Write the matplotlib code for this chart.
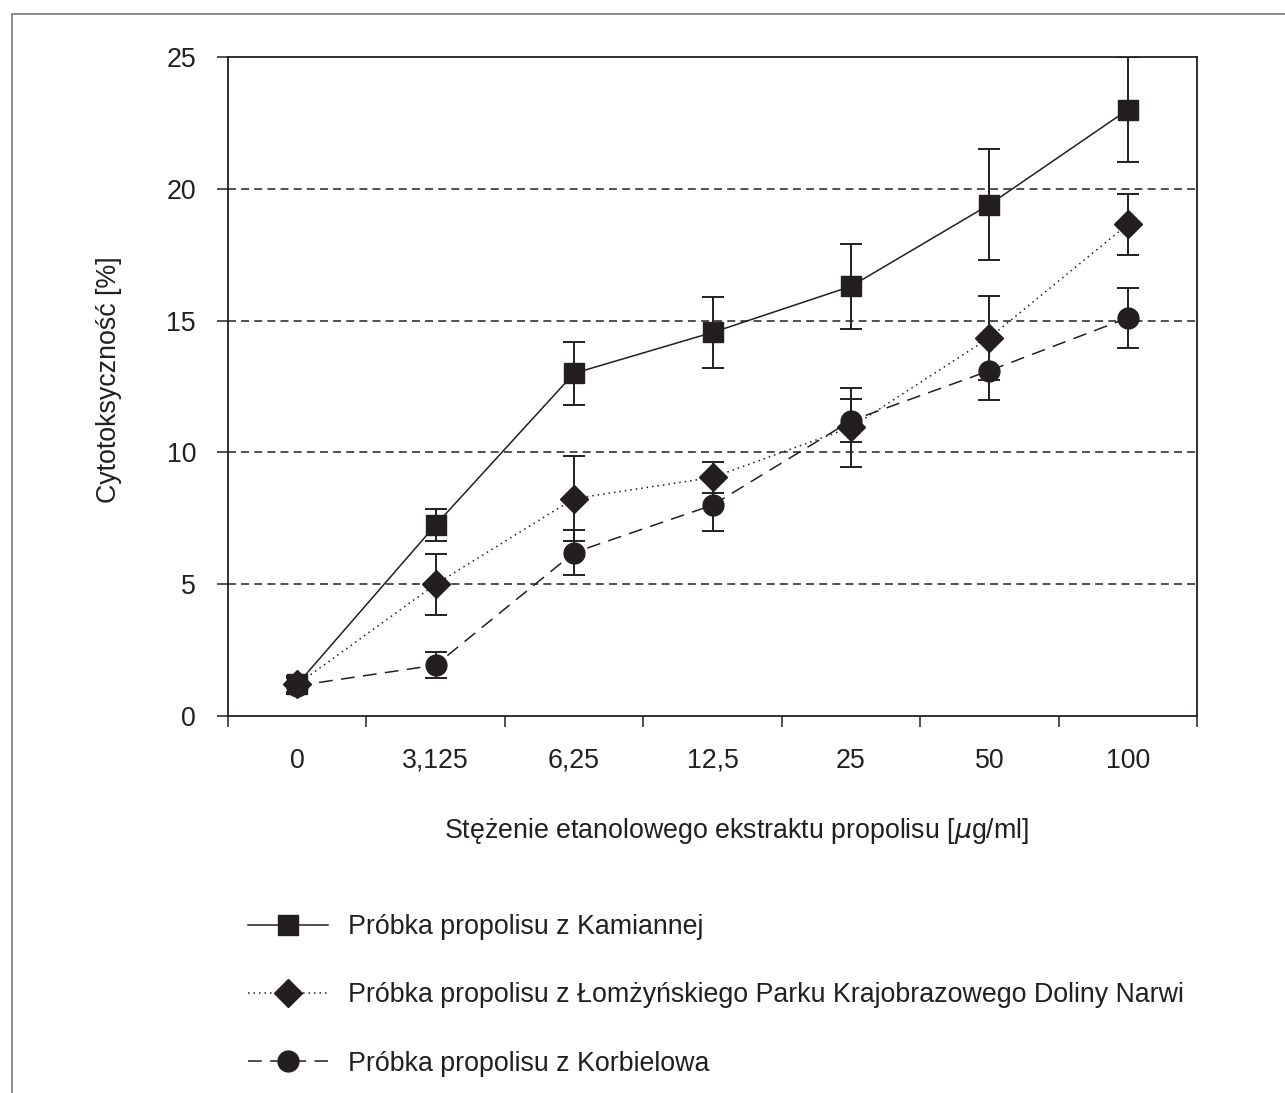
import matplotlib.pyplot as plt
from matplotlib.patches import Rectangle

plt.rcParams['font.family'] = ['Liberation Sans', 'DejaVu Sans']

# Data
concentrations = ['0', '3,125', '6,25', '12,5', '25', '50', '100']
kamienna = [1.2, 7.25, 13.0, 14.55, 16.3, 19.4, 23.0]
kamienna_err = [0.3, 0.6, 1.2, 1.35, 1.6, 2.1, 2.0]
lomza = [1.2, 5.0, 8.25, 9.05, 10.95, 14.35, 18.65]
lomza_err = [0.3, 1.15, 1.6, 0.6, 1.5, 1.6, 1.17]
korbielow = [1.15, 1.93, 6.2, 8.0, 11.2, 13.1, 15.1]
korbielow_err = [0.3, 0.5, 0.85, 1.0, 0.82, 1.1, 1.15]

labels = ['Próbka propolisu z Kamiannej',
          'Próbka propolisu z Łomżyńskiego Parku Krajobrazowego Doliny Narwi',
          'Próbka propolisu z Korbielowa']

ink = '#231f20'
fs = 19.3
x = list(range(len(concentrations)))

fig = plt.figure(figsize=(12.85, 10.93), dpi=100)
ax = fig.add_axes([228 / 1285, 1 - 716 / 1093, 969 / 1285, 659 / 1093])

# outer frame of the figure
fig.patches.append(Rectangle((12 / 1285, -0.05), 1.1, 1 - 14 / 1093 + 0.05,
                             transform=fig.transFigure, fill=False,
                             edgecolor='#7a7a7a', lw=1.2))

for yv in [5, 10, 15, 20]:
    ax.axhline(yv, color=ink, lw=1.1, dashes=(5.2, 3.4), zorder=1)

series = [
    (kamienna, kamienna_err, 's', 14, '-', None),
    (lomza, lomza_err, 'D', 14, ':', (1, 2.6)),
    (korbielow, korbielow_err, 'o', 15, '--', (9, 5.5)),
]
handles = []
for (vals, err, mk, ms, ls, dash), lab in zip(series, labels):
    ax.errorbar(x, vals, yerr=err, fmt='none', ecolor=ink, elinewidth=1.4,
                capsize=8, capthick=1.4, zorder=2)
    kw = dict(color=ink, lw=1.1, marker=mk, markersize=ms,
              markerfacecolor=ink, markeredgecolor=ink, zorder=3, label=lab)
    if dash is None:
        line, = ax.plot(x, vals, linestyle=ls, **kw)
    else:
        line, = ax.plot(x, vals, dashes=dash, **kw)
    handles.append(line)

ax.set_xlim(-0.5, 6.5)
ax.set_ylim(0, 25)
ax.set_yticks([0, 5, 10, 15, 20, 25])
ax.set_xticks([i - 0.5 for i in range(8)])
ax.set_xticklabels([])
ax.set_xticks(x, minor=True)
ax.set_xticklabels(concentrations, minor=True)
ax.tick_params(axis='x', which='major', direction='out', length=8, width=1.1, color=ink)
ax.tick_params(axis='x', which='minor', length=8, width=0, pad=15, labelsize=fs, labelcolor=ink)
ax.tick_params(axis='y', direction='out', length=8, width=1.1, color=ink, pad=15,
               labelsize=fs, labelcolor=ink)
for sp in ax.spines.values():
    sp.set_color(ink)
    sp.set_linewidth(1.3)

ax.set_ylabel('Cytotoksyczność [%]', fontsize=fs, color=ink)
ax.yaxis.set_label_coords(-0.109, 0.51)
ax.set_xlabel('Stężenie etanolowego ekstraktu propolisu [$\\mu$g/ml]', fontsize=fs, color=ink)
ax.xaxis.set_label_coords(0.525, -0.152)

fig.legend(handles=handles, loc='upper left', bbox_to_anchor=(248 / 1285, 1 - 914 / 1093),
           frameon=False, fontsize=fs, handlelength=3.0, handletextpad=0.72,
           labelspacing=1.58, borderpad=0, borderaxespad=0, numpoints=1, labelcolor=ink)

plt.savefig('out.png', dpi=100, facecolor='white')
